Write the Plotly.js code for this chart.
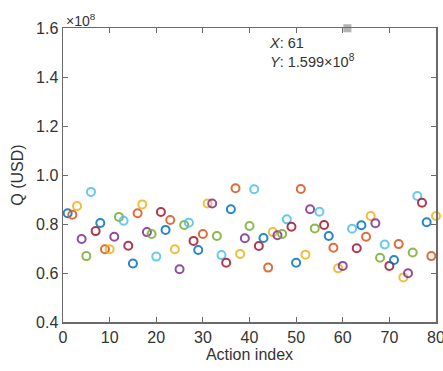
<!DOCTYPE html>
<html>
<head>
<meta charset="utf-8">
<script src="https://cdn.plot.ly/plotly-3.0.1.min.js"></script>
<style>html,body{margin:0;padding:0;background:#fff;}#chart{width:443px;height:371px;}</style>
</head>
<body>
<div id="chart"></div>
<script>
// Action index 1..80
const actionIndex = [];
for (let i = 1; i <= 80; i++) actionIndex.push(i);
// Q values in units of 1e8 USD
const qValues = [
  0.844, 0.838, 0.873, 0.739, 0.669, 0.931, 0.771, 0.804, 0.697, 0.697,
  0.748, 0.829, 0.813, 0.711, 0.639, 0.844, 0.880, 0.767, 0.759, 0.667,
  0.849, 0.776, 0.816, 0.697, 0.615, 0.796, 0.805, 0.731, 0.694, 0.759,
  0.884, 0.884, 0.751, 0.673, 0.642, 0.860, 0.946, 0.678, 0.742, 0.792,
  0.942, 0.710, 0.743, 0.622, 0.767, 0.754, 0.759, 0.819, 0.789, 0.642,
  0.943, 0.675, 0.860, 0.782, 0.850, 0.796, 0.751, 0.703, 0.619, 0.629,
  1.599, 0.781, 0.701, 0.795, 0.748, 0.833, 0.803, 0.662, 0.716, 0.629,
  0.653, 0.718, 0.582, 0.599, 0.684, 0.914, 0.887, 0.807, 0.669, 0.833
];
const colorCycle = ['#0072BD','#D95319','#EDB120','#7E2F8E','#77AC30','#4DBEEE','#A2142F'];
const yTicks = [0.4, 0.6, 0.8, 1.0, 1.2, 1.4, 1.6];
const yTickText = ['0.4','0.6','0.8','1.0','1.2','1.4','1.6'];
const xTicks = [0, 10, 20, 30, 40, 50, 60, 70, 80];
const tipIndex = 61;

const colors = actionIndex.map((x, i) => x === tipIndex ? '#a8a8a8' : colorCycle[i % 7]);
const symbols = actionIndex.map(x => x === tipIndex ? 'square' : 'circle-open');
const sizes = actionIndex.map(x => x === tipIndex ? 6 : 8);

const trace = {
  x: actionIndex, y: qValues, type: 'scatter', mode: 'markers',
  marker: {symbol: symbols, size: sizes, color: colors, opacity: 0.85,
           line: {width: 2, color: colors}},
  cliponaxis: false, hoverinfo: 'none'
};

const axisCommon = {
  showline: true, linecolor: '#6a6a6a', linewidth: 1.5, mirror: 'ticks',
  ticks: 'inside', ticklen: 5, tickcolor: '#6a6a6a', tickwidth: 1,
  showgrid: false, zeroline: false, ticklabeloverflow: 'allow',
  tickfont: {family: 'Liberation Sans, Arial, sans-serif', size: 16, color: '#333'}
};

const tipY = qValues[tipIndex - 1];
const layout = {
  width: 443, height: 371,
  margin: {l: 63, r: 7, t: 28, b: 49},
  paper_bgcolor: '#fff', plot_bgcolor: '#fff',
  showlegend: false,
  font: {family: 'Liberation Sans, Arial, sans-serif', color: '#333'},
  xaxis: Object.assign({}, axisCommon, {
    range: [0, 80], tickvals: xTicks, ticktext: xTicks.map(String),
    title: {text: 'Action index', font: {size: 16, color: '#333'}, standoff: 2}
  }),
  yaxis: Object.assign({}, axisCommon, {
    range: [0.4, 1.6], tickvals: yTicks, ticktext: yTickText,
    title: {text: 'Q (USD)', font: {size: 16, color: '#333'}, standoff: 8}
  }),
  annotations: [
    {xref: 'paper', yref: 'paper', x: 0.0, y: 1.0, xanchor: 'left', yanchor: 'bottom',
     text: '\u00d710<sup>8</sup>', showarrow: false, yshift: -3, xshift: 1,
     font: {size: 14, color: '#333'}},
    {xref: 'x', yref: 'y', x: tipIndex, y: tipY, xanchor: 'left', yanchor: 'top',
     xshift: -80, yshift: -5, align: 'left', showarrow: false,
     text: '<i>X</i>: ' + tipIndex + '<br><i>Y</i>: ' + tipY.toFixed(3) + '\u00d710<sup>8</sup>',
     font: {size: 14.5, color: '#333'}}
  ]
};

Plotly.newPlot('chart', [trace], layout, {displayModeBar: false, staticPlot: true});
</script>
</body>
</html>
